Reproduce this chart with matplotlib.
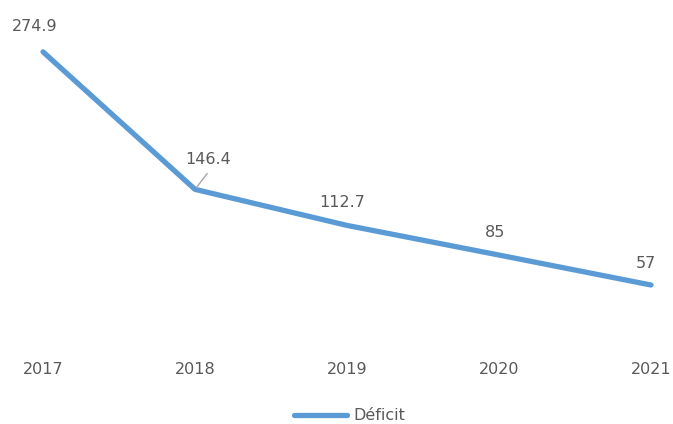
import matplotlib.pyplot as plt

years = ['2017', '2018', '2019', '2020', '2021']
deficit = [274.9, 146.4, 112.7, 85, 57]
value_labels = ['274.9', '146.4', '112.7', '85', '57']

# label offsets in pixels (dx, dy) relative to the point
offsets = [(-8, 25), (13, 30), (-5, 23), (-4, 23), (-5, 22)]

plt.rcParams['font.family'] = ['DejaVu Sans']
blue = '#5B9BD5'
grey = '#595959'

fig = plt.figure(figsize=(6.73, 4.24), dpi=100)
ax = fig.add_axes([0, 78/424, 1, (346-25)/424])
x = list(range(len(years)))
line, = ax.plot(x, deficit, color=blue, lw=3.8, solid_capstyle='round', label='Déficit')
ax.set_xlim(-43/152, 4 + 22/152)
ax.set_ylim(0, 300)

for i, (xi, yi) in enumerate(zip(x, deficit)):
    dx, dy = offsets[i]
    ax.annotate(value_labels[i], (xi, yi), xytext=(dx*0.72, dy*0.72),
                textcoords='offset points', ha='center', va='center',
                fontsize=11.5, color=grey)
# leader line for the 2018 label
ax.annotate('', (x[1], deficit[1]), xytext=(10, 13), textcoords='offset points',
            arrowprops=dict(arrowstyle='-', color='#A6A6A6', lw=1))

ax.set_xticks(x)
ax.set_xticklabels(years, fontsize=11.5, color=grey)
ax.tick_params(axis='x', length=0, pad=11.5)
ax.set_yticks([])
for s in ax.spines.values():
    s.set_visible(False)
ax.patch.set_alpha(0)

fig.legend(handles=[line], loc='center', bbox_to_anchor=(0.52, 8/424),
           frameon=False, fontsize=11.5, handlelength=3.3, handletextpad=0.4,
           labelcolor=grey)

fig.savefig('out.png', dpi=100)
